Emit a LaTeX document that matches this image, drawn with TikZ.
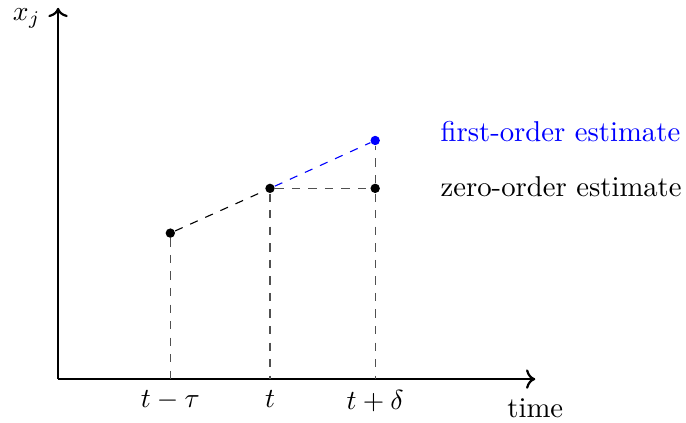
\documentclass[tikz,border=0pt]{standalone}
\usepackage{xcolor}
\usepackage{amsmath}
\usepackage{tikz}
\usetikzlibrary{arrows.meta, positioning, calc}
\definecolor{mygray}{RGB}{80,80,80}
\tikzset{
  axis/.style={->, thick, color=black},
  dot/.style={circle, fill=black, inner sep=0pt, minimum size=3.4pt},
  bluedot/.style={circle, fill=blue, inner sep=0pt, minimum size=3.4pt},
  guide/.style={dashed, color=mygray},
  slope/.style={dashed, color=black},
  blueslope/.style={dashed, color=blue},
  tick/.style={below, inner sep=4pt, font=\fontsize{10.4}{12.5}\selectfont},
  note/.style={anchor=west, font=\fontsize{10.4}{12.5}\selectfont}
}

\begin{document}
\begin{tikzpicture}[x=1cm, y=1cm]
  \useasboundingbox (-0.74,-0.55) rectangle (8.0,4.83);
  \coordinate (O) at (0,0);
  \draw[axis] (O) -- (0,4.73) coordinate (ytop);
  \draw[axis] (O) -- (6.08,0) coordinate (xend);
  \node[font=\fontsize{10.4}{12.5}\selectfont] (ylab) at (-0.40,4.6) {$x_j$};
  \node[font=\fontsize{10.4}{12.5}\selectfont] (xlab) at (6.08,-0.37) {time};

  \node[dot] (prev) at (1.43,1.86) {};
  \node[dot] (now) at (2.70,2.43) {};
  \node[dot] (zero) at (4.04,2.43) {};
  \node[bluedot] (first) at (4.04,3.04) {};

  \coordinate (tprev) at (1.43,0);
  \coordinate (tnow) at (2.70,0);
  \coordinate (tnext) at (4.04,0);
  \foreach \p/\q in {prev/tprev, now/tnow, zero/tnext}
    \draw[guide] (\p) -- (\q);
  \draw[guide] (zero) -- (first);
  \draw[guide] (now) -- (zero);
  \draw[slope] (prev) -- (now);
  \draw[blueslope] (now) -- (first);

  \node[tick] (lprev) at (tprev) {$t-\tau$};
  \node[tick] (lnow) at (tnow) {$t$};
  \node[tick] (lnext) at (tnext) {$t+\delta$};

  \node[note, text=blue] (fo) at (4.75,3.15) {first-order estimate};
  \node[note] (zo) at (4.75,2.45) {zero-order estimate};
\end{tikzpicture}
\end{document}
